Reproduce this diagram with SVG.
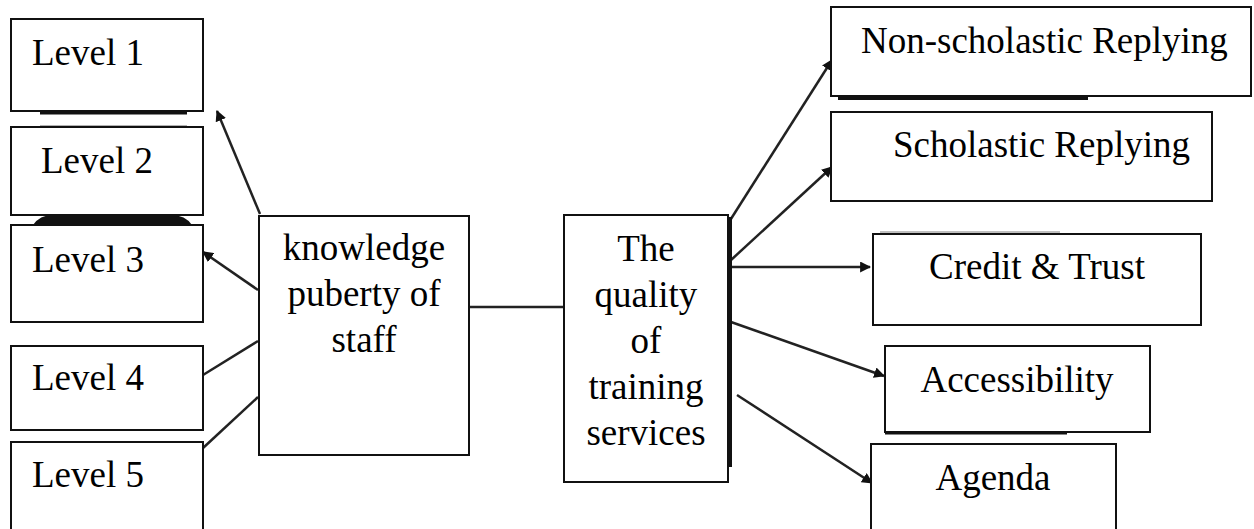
<svg xmlns="http://www.w3.org/2000/svg" width="1254" height="529" viewBox="0 0 1254 529">
<style>
.box{fill:#fff;stroke:#111;stroke-width:2}
.t{font-family:"Liberation Serif","Times New Roman",serif;font-size:37px;fill:#000}
.c{text-anchor:middle}
.ln{stroke:#222;stroke-width:2.5;fill:none}
.sh{stroke:#111;fill:none}
</style>
<defs>
<marker id="ah" viewBox="0 0 10 10" refX="9" refY="5" markerWidth="4.4" markerHeight="4.4" orient="auto" markerUnits="strokeWidth">
<path d="M0,0 L10,5 L0,10 z" fill="#111"/>
</marker>
</defs>
<rect width="1254" height="529" fill="#fff"/>

<g id="artifacts">
<line class="sh" x1="40" y1="113" x2="187" y2="113" stroke-width="3"/>
<line x1="40" y1="126" x2="187" y2="126" stroke="#999" stroke-width="1.5"/>
<path d="M33,225 Q40,215 52,215 L172,215 Q185,215 192,225 Z" fill="#111"/>
<line class="sh" x1="838" y1="98" x2="1088" y2="98" stroke-width="4"/>
<line class="sh" x1="885" y1="433" x2="1067" y2="433" stroke-width="3"/>
<line x1="880" y1="232" x2="1060" y2="232" stroke="#aaa" stroke-width="1.5"/>
</g>

<g id="connectors">
<line class="ln" x1="260" y1="214" x2="217" y2="111" marker-end="url(#ah)"/>
<line class="ln" x1="258" y1="290" x2="203" y2="252" marker-end="url(#ah)"/>
<line class="ln" x1="258" y1="341" x2="203" y2="375"/>
<line class="ln" x1="258" y1="397" x2="203" y2="448"/>
<line class="ln" x1="469" y1="307" x2="564" y2="307"/>
<line class="ln" x1="729" y1="222" x2="832" y2="60" marker-end="url(#ah)"/>
<line class="ln" x1="731" y1="260" x2="832" y2="167" marker-end="url(#ah)"/>
<line class="ln" x1="731" y1="267" x2="870" y2="267" marker-end="url(#ah)"/>
<line class="ln" x1="731" y1="322" x2="884" y2="376" marker-end="url(#ah)"/>
<line class="ln" x1="737" y1="395" x2="872" y2="483" marker-end="url(#ah)"/>
</g>

<g id="level1"><rect class="box" x="11" y="19" width="192" height="92"/><text class="t" x="32" y="65">Level 1</text></g>
<g id="level2"><rect class="box" x="11" y="127" width="192" height="88"/><text class="t" x="41" y="173">Level 2</text></g>
<g id="level3"><rect class="box" x="11" y="225" width="192" height="97"/><text class="t" x="32" y="272">Level 3</text></g>
<g id="level4"><rect class="box" x="11" y="346" width="192" height="84"/><text class="t" x="32" y="390">Level 4</text></g>
<g id="level5"><rect class="box" x="11" y="442" width="192" height="100"/><text class="t" x="32" y="487">Level 5</text></g>

<g id="knowledge"><rect class="box" x="259" y="216" width="210" height="239"/>
<text class="t c" x="364" y="260">knowledge</text>
<text class="t c" x="364" y="306">puberty of</text>
<text class="t c" x="364" y="352">staff</text></g>

<g id="quality"><rect class="box" x="564" y="215" width="164" height="267"/>
<line x1="730" y1="217" x2="730" y2="467" stroke="#111" stroke-width="4"/>
<text class="t c" x="646" y="261">The</text>
<text class="t c" x="646" y="307">quality</text>
<text class="t c" x="646" y="353">of</text>
<text class="t c" x="646" y="399">training</text>
<text class="t c" x="646" y="445">services</text></g>

<g id="nonscholastic"><rect class="box" x="831" y="7" width="420" height="89"/><text class="t" x="861" y="53">Non-scholastic Replying</text></g>
<g id="scholastic"><rect class="box" x="831" y="112" width="381" height="89"/><text class="t" x="893" y="157">Scholastic Replying</text></g>
<g id="credit"><rect class="box" x="873" y="234" width="328" height="91"/><text class="t c" x="1037" y="279">Credit &amp; Trust</text></g>
<g id="accessibility"><rect class="box" x="885" y="346" width="265" height="86"/><text class="t c" x="1017" y="392">Accessibility</text></g>
<g id="agenda"><rect class="box" x="871" y="444" width="245" height="100"/><text class="t c" x="993" y="490">Agenda</text></g>
</svg>
